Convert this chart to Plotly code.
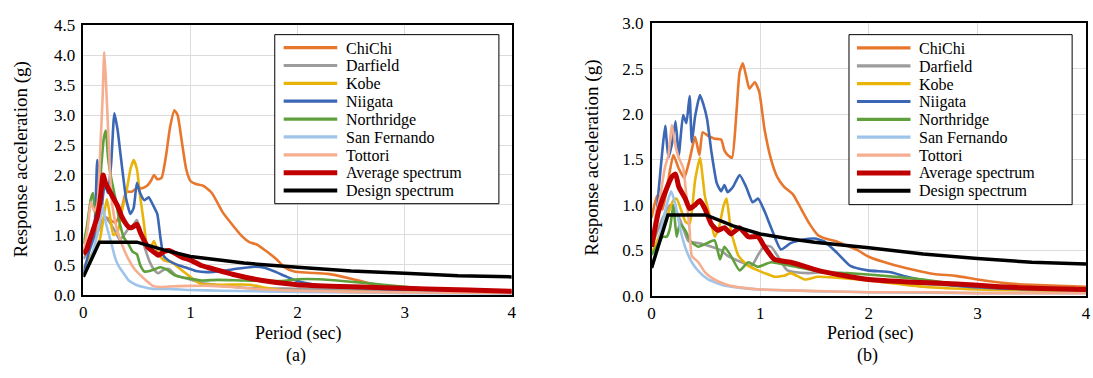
import plotly.graph_objects as go

W, H = 1093, 378
FONT = "Liberation Serif"

names = ["ChiChi", "Darfield", "Kobe", "Niigata", "Northridge", "San Fernando", "Tottori",
         "Average spectrum", "Design spectrum"]
colors = ["#E8772E", "#9C9C9C", "#E8B40A", "#3B67B5", "#5FA03C", "#9EC4EA", "#F5AE8F",
          "#C00000", "#000000"]

# ---------------- panel (a) ----------------
a_chichi_T = [0, 0.1, 0.2, 0.3, 0.36, 0.4, 0.45, 0.5, 0.55, 0.6, 0.63, 0.66, 0.69, 0.73, 0.77, 0.81, 0.85, 0.88, 0.92, 0.96, 1.0, 1.05, 1.12, 1.2, 1.3, 1.4, 1.48, 1.55, 1.62, 1.7, 1.8, 1.88, 1.97, 2.1, 2.28, 2.5, 2.7, 3.0, 3.5, 4.0]
a_chichi_v = [0.75, 1.0, 1.3, 1.2, 1.45, 1.72, 1.72, 1.78, 1.78, 1.83, 1.9, 2.0, 1.93, 1.95, 2.3, 2.8, 3.08, 3.0, 2.55, 2.1, 1.9, 1.85, 1.82, 1.7, 1.38, 1.15, 0.98, 0.88, 0.84, 0.74, 0.6, 0.46, 0.39, 0.37, 0.35, 0.27, 0.18, 0.1, 0.06, 0.05]

a_darfield_T = [0, 0.05, 0.1, 0.15, 0.2, 0.25, 0.3, 0.34, 0.38, 0.42, 0.46, 0.5, 0.54, 0.58, 0.62, 0.66, 0.7, 0.75, 0.8, 0.86, 0.95, 1.1, 1.3, 1.5, 2.0, 2.5, 3.0, 4.0]
a_darfield_v = [0.6, 0.75, 0.95, 1.1, 1.3, 1.2, 1.05, 0.92, 1.0, 1.1, 1.15, 1.25, 1.0, 0.75, 0.55, 0.42, 0.36, 0.42, 0.43, 0.33, 0.28, 0.2, 0.15, 0.12, 0.1, 0.08, 0.06, 0.04]

a_kobe_T = [0, 0.05, 0.1, 0.15, 0.19, 0.22, 0.25, 0.28, 0.32, 0.36, 0.4, 0.44, 0.47, 0.5, 0.53, 0.565, 0.6, 0.63, 0.66, 0.7, 0.75, 0.83, 0.94, 1.0, 1.1, 1.3, 1.55, 1.7, 1.85, 2.0, 2.5, 3.0, 4.0]
a_kobe_v = [0.45, 0.6, 0.75, 0.9, 1.3, 1.6, 1.3, 1.0, 1.05, 1.4, 1.7, 2.1, 2.25, 2.1, 1.65, 1.2, 0.78, 0.8, 0.9, 0.7, 0.58, 0.54, 0.38, 0.3, 0.18, 0.17, 0.17, 0.12, 0.08, 0.06, 0.05, 0.04, 0.03]

a_niigata_T = [0, 0.05, 0.1, 0.13, 0.16, 0.2, 0.23, 0.26, 0.29, 0.32, 0.35, 0.4, 0.44, 0.47, 0.5, 0.53, 0.57, 0.61, 0.65, 0.69, 0.72, 0.75, 0.8, 0.88, 0.95, 1.05, 1.15, 1.3, 1.45, 1.6, 1.7, 1.8, 1.9, 2.0, 2.2, 2.5, 2.8, 3.2, 3.6, 4.0]
a_niigata_v = [0.35, 0.7, 1.0, 2.25, 1.3, 1.85, 1.7, 2.2, 3.03, 2.75, 2.3, 1.6, 1.35, 1.45, 1.87, 1.7, 1.58, 1.63, 1.5, 1.35, 0.95, 0.65, 0.57, 0.5, 0.46, 0.4, 0.38, 0.4, 0.44, 0.47, 0.45, 0.38, 0.3, 0.23, 0.16, 0.12, 0.1, 0.07, 0.05, 0.04]

a_northridge_T = [0, 0.03, 0.07, 0.09, 0.11, 0.14, 0.17, 0.19, 0.21, 0.23, 0.26, 0.3, 0.34, 0.38, 0.42, 0.46, 0.5, 0.53, 0.57, 0.62, 0.67, 0.72, 0.78, 0.85, 0.93, 1.0, 1.1, 1.25, 1.5, 1.85, 2.0, 2.2, 2.5, 2.8, 3.1, 3.5, 4.0]
a_northridge_v = [0.85, 1.1, 1.6, 1.7, 1.35, 1.55, 2.2, 2.6, 2.74, 2.3, 1.95, 1.6, 1.2, 0.95, 0.85, 0.72, 0.68, 0.5, 0.39, 0.4, 0.43, 0.46, 0.42, 0.33, 0.29, 0.27, 0.24, 0.25, 0.24, 0.23, 0.26, 0.26, 0.22, 0.17, 0.12, 0.07, 0.04]

a_sanfernando_T = [0, 0.05, 0.1, 0.13, 0.16, 0.18, 0.21, 0.24, 0.27, 0.3, 0.33, 0.38, 0.43, 0.49, 0.56, 0.65, 0.8, 1.0, 1.3, 1.6, 2.0, 2.5, 3.0, 4.0]
a_sanfernando_v = [0.35, 0.5, 0.8, 1.0, 1.3, 1.48, 1.2, 1.0, 0.8, 0.6, 0.48, 0.35, 0.23, 0.17, 0.13, 0.1, 0.1, 0.08, 0.07, 0.06, 0.05, 0.04, 0.03, 0.02]

a_tottori_T = [0, 0.04, 0.07, 0.1, 0.13, 0.16, 0.18, 0.195, 0.21, 0.23, 0.25, 0.27, 0.3, 0.33, 0.37, 0.42, 0.47, 0.52, 0.58, 0.65, 0.72, 0.8, 1.0, 1.2, 1.4, 1.6, 1.8, 2.0, 2.5, 3.0, 4.0]
a_tottori_v = [0.7, 1.1, 1.55, 1.4, 1.5, 2.5, 3.3, 4.05, 3.6, 2.8, 2.0, 1.5, 1.2, 1.0, 0.8, 0.6, 0.45, 0.35, 0.25, 0.15, 0.13, 0.14, 0.15, 0.15, 0.13, 0.1, 0.08, 0.07, 0.05, 0.04, 0.03]

a_average_T = [0, 0.03, 0.06, 0.1, 0.13, 0.155, 0.185, 0.21, 0.24, 0.27, 0.3, 0.33, 0.36, 0.4, 0.43, 0.46, 0.5, 0.53, 0.57, 0.6, 0.63, 0.67, 0.7, 0.75, 0.8, 0.85, 0.93, 1.0, 1.1, 1.2, 1.4, 1.67, 2.0, 2.4, 2.8, 3.2, 3.6, 4.0]
a_average_v = [0.68, 0.75, 0.92, 1.13, 1.3, 1.55, 2.0, 1.85, 1.75, 1.65, 1.55, 1.44, 1.3, 1.18, 1.12, 1.13, 1.18, 1.05, 0.9, 0.8, 0.75, 0.7, 0.66, 0.72, 0.74, 0.7, 0.62, 0.58, 0.49, 0.44, 0.34, 0.24, 0.17, 0.14, 0.12, 0.1, 0.08, 0.06]

a_design_T = [0, 0.15, 0.5, 0.75, 1.0, 1.25, 1.5, 2.0, 2.5, 3.0, 3.5, 4.0]
a_design_v = [0.3, 0.88, 0.88, 0.75, 0.64, 0.58, 0.53, 0.46, 0.40, 0.36, 0.32, 0.30]

# ---------------- panel (b) ----------------
b_chichi_T = [0, 0.05, 0.1, 0.15, 0.2, 0.25, 0.3, 0.35, 0.4, 0.44, 0.47, 0.52, 0.58, 0.64, 0.67, 0.7, 0.74, 0.78, 0.81, 0.84, 0.87, 0.9, 0.95, 0.99, 1.04, 1.1, 1.16, 1.22, 1.3, 1.38, 1.45, 1.53, 1.6, 1.7, 1.8, 1.9, 2.0, 2.2, 2.4, 2.6, 2.8, 3.0, 3.25, 3.5, 3.75, 4.0]
b_chichi_v = [0.86, 1.1, 0.95, 1.25, 1.55, 1.4, 1.3, 1.5, 1.75, 1.55, 1.8, 1.76, 1.73, 1.72, 1.6, 1.55, 1.52, 2.0, 2.46, 2.56, 2.42, 2.28, 2.35, 2.25, 1.83, 1.5, 1.3, 1.2, 1.12, 0.95, 0.8, 0.67, 0.63, 0.6, 0.55, 0.5, 0.43, 0.35, 0.29, 0.24, 0.22, 0.18, 0.14, 0.12, 0.11, 0.1]

b_darfield_T = [0, 0.05, 0.1, 0.17, 0.22, 0.28, 0.34, 0.43, 0.5, 0.58, 0.64, 0.7, 0.77, 0.83, 0.92, 0.98, 1.04, 1.1, 1.16, 1.25, 1.44, 1.59, 1.8, 2.0, 2.5, 3.0, 3.5, 4.0]
b_darfield_v = [0.55, 0.7, 0.85, 1.0, 0.95, 0.78, 0.6, 0.58, 0.56, 0.53, 0.5, 0.44, 0.4, 0.37, 0.33, 0.45, 0.55, 0.54, 0.44, 0.28, 0.25, 0.26, 0.22, 0.19, 0.13, 0.1, 0.09, 0.08]

b_kobe_T = [0, 0.05, 0.1, 0.15, 0.2, 0.23, 0.27, 0.31, 0.35, 0.4, 0.445, 0.49, 0.54, 0.58, 0.62, 0.66, 0.69, 0.73, 0.8, 0.89, 0.98, 1.04, 1.13, 1.22, 1.28, 1.41, 1.53, 1.7, 2.0, 2.5, 3.0, 4.0]
b_kobe_v = [0.47, 0.6, 0.75, 0.9, 1.05, 1.07, 0.95, 0.82, 0.79, 1.27, 1.52, 1.1, 0.86, 0.65, 0.75, 0.98, 1.07, 0.72, 0.44, 0.33, 0.28, 0.25, 0.21, 0.22, 0.25, 0.18, 0.21, 0.2, 0.17, 0.1, 0.07, 0.05]

b_niigata_T = [0, 0.03, 0.06, 0.095, 0.125, 0.155, 0.19, 0.22, 0.25, 0.29, 0.32, 0.35, 0.37, 0.4, 0.445, 0.476, 0.51, 0.55, 0.6, 0.64, 0.67, 0.7, 0.75, 0.81, 0.87, 0.93, 0.98, 1.04, 1.1, 1.19, 1.28, 1.4, 1.5, 1.59, 1.71, 1.83, 1.99, 2.2, 2.35, 2.6, 2.81, 3.2, 3.6, 4.0]
b_niigata_v = [0.65, 0.72, 1.1, 1.55, 1.87, 1.52, 1.69, 1.92, 1.55, 1.99, 1.9, 2.2, 1.69, 1.97, 2.21, 2.11, 1.95, 1.59, 1.24, 1.15, 1.22, 1.14, 1.2, 1.33, 1.2, 1.03, 1.07, 0.93, 0.75, 0.51, 0.58, 0.62, 0.63, 0.6, 0.47, 0.33, 0.28, 0.26, 0.21, 0.15, 0.11, 0.08, 0.07, 0.06]

b_northridge_T = [0, 0.05, 0.1, 0.14, 0.17, 0.2, 0.23, 0.26, 0.31, 0.36, 0.43, 0.51, 0.58, 0.63, 0.67, 0.73, 0.81, 0.89, 0.98, 1.1, 1.28, 1.59, 1.8, 2.05, 2.5, 2.81, 3.2, 3.6, 4.0]
b_northridge_v = [0.45, 0.55, 0.65, 0.65, 0.75, 1.0, 0.65, 0.79, 0.72, 0.6, 0.54, 0.58, 0.61, 0.4, 0.54, 0.44, 0.28, 0.37, 0.32, 0.37, 0.33, 0.26, 0.25, 0.23, 0.18, 0.13, 0.1, 0.08, 0.06]

b_sanfernando_T = [0, 0.05, 0.1, 0.15, 0.18, 0.22, 0.27, 0.32, 0.37, 0.44, 0.52, 0.65, 0.8, 1.0, 1.5, 2.0, 3.0, 4.0]
b_sanfernando_v = [0.3, 0.5, 0.8, 1.05, 1.15, 1.0, 0.7, 0.5, 0.37, 0.26, 0.18, 0.12, 0.09, 0.07, 0.05, 0.04, 0.03, 0.03]

b_tottori_T = [0, 0.04, 0.08, 0.12, 0.155, 0.186, 0.22, 0.25, 0.29, 0.32, 0.35, 0.37, 0.43, 0.49, 0.55, 0.61, 0.7, 0.83, 1.0, 1.3, 1.6, 2.0, 2.5, 3.0, 4.0]
b_tottori_v = [0.6, 0.9, 1.1, 1.4, 1.55, 1.88, 1.65, 1.52, 1.41, 1.1, 0.72, 0.44, 0.37, 0.26, 0.2, 0.16, 0.12, 0.09, 0.07, 0.06, 0.05, 0.04, 0.04, 0.03, 0.03]

b_average_T = [0, 0.064, 0.125, 0.186, 0.22, 0.25, 0.31, 0.35, 0.4, 0.445, 0.49, 0.55, 0.61, 0.67, 0.73, 0.81, 0.89, 0.98, 1.04, 1.13, 1.28, 1.53, 1.74, 2.0, 2.4, 2.81, 3.2, 3.6, 4.0]
b_average_v = [0.54, 0.93, 1.14, 1.31, 1.34, 1.2, 1.07, 0.96, 1.0, 1.05, 0.96, 0.79, 0.72, 0.75, 0.68, 0.75, 0.65, 0.65, 0.54, 0.40, 0.37, 0.28, 0.23, 0.18, 0.15, 0.13, 0.1, 0.08, 0.07]

b_design_T = [0, 0.15, 0.5, 0.75, 1.0, 1.25, 1.5, 2.0, 2.5, 3.0, 3.5, 4.0]
b_design_v = [0.31, 0.89, 0.89, 0.77, 0.68, 0.63, 0.59, 0.53, 0.46, 0.41, 0.37, 0.35]

panel_a = [(a_chichi_T, a_chichi_v), (a_darfield_T, a_darfield_v), (a_kobe_T, a_kobe_v),
           (a_niigata_T, a_niigata_v), (a_northridge_T, a_northridge_v),
           (a_sanfernando_T, a_sanfernando_v), (a_tottori_T, a_tottori_v),
           (a_average_T, a_average_v), (a_design_T, a_design_v)]
panel_b = [(b_chichi_T, b_chichi_v), (b_darfield_T, b_darfield_v), (b_kobe_T, b_kobe_v),
           (b_niigata_T, b_niigata_v), (b_northridge_T, b_northridge_v),
           (b_sanfernando_T, b_sanfernando_v), (b_tottori_T, b_tottori_v),
           (b_average_T, b_average_v), (b_design_T, b_design_v)]

widths = [2.6] * 7 + [5, 3.5]


def px_x(p):
    return p / W


def px_y(p):
    return 1 - p / H


fig = go.Figure()
for k, (panel, xa, ya) in enumerate([(panel_a, "x", "y"), (panel_b, "x2", "y2")]):
    for i, (T, v) in enumerate(panel):
        shape = "linear" if i == 8 else "spline"
        fig.add_trace(go.Scatter(
            x=T, y=v, mode="lines", name=names[i], xaxis=xa, yaxis=ya,
            showlegend=False, legendgroup=names[i],
            line=dict(color=colors[i], width=widths[i], shape=shape,
                      smoothing=0.5 if shape == "spline" else None),
        ))

tickfont = dict(family=FONT, size=17, color="#000")
axis_common = dict(showline=True, linecolor="#000", linewidth=1.5, mirror=True,
                   showgrid=True, gridcolor="#DCDCDC", gridwidth=1, zeroline=False,
                   ticks="", tickfont=tickfont)

fig.update_layout(
    width=W, height=H, margin=dict(l=0, r=0, t=0, b=0),
    paper_bgcolor="white", plot_bgcolor="white",
    font=dict(family=FONT, size=17, color="#000"),
    showlegend=False,
    xaxis=dict(domain=[px_x(80), px_x(512)], range=[0, 4], dtick=1, anchor="y",
               ticklabelstandoff=1, **axis_common),
    yaxis=dict(domain=[px_y(301), px_y(17)], range=[0, 4.5], dtick=0.5, tickformat=".1f",
               anchor="x", ticklabelstandoff=3, **axis_common),
    xaxis2=dict(domain=[px_x(653), px_x(1091)], range=[0, 4], dtick=1, anchor="y2",
                ticklabelstandoff=1, **axis_common),
    yaxis2=dict(domain=[px_y(302), px_y(15)], range=[0, 3.0], dtick=0.5, tickformat=".1f",
                anchor="x2", ticklabelstandoff=3, **axis_common),
)

# legends (box, line samples, labels) placed like the reference
legend_boxes = [
    dict(x0=273, x1=499, y0=27, y1=205, lx0=282, lx1=336, tx=342.5, ty0=40.7),
    dict(x0=852, x1=1077, y0=27, y1=206, lx0=860, lx1=914, tx=921, ty0=41.0),
]
row_step = 18.8
legend_widths = [3.2] * 7 + [5, 4]
shapes = []
annotations = []
for lb in legend_boxes:
    shapes.append(dict(type="rect", xref="paper", yref="paper",
                       x0=px_x(lb["x0"]), x1=px_x(lb["x1"]),
                       y0=px_y(lb["y1"]), y1=px_y(lb["y0"]),
                       line=dict(color="#000", width=1), fillcolor="white", layer="above"))
    for i in range(9):
        yy = lb["ty0"] + i * row_step
        shapes.append(dict(type="line", xref="paper", yref="paper",
                           x0=px_x(lb["lx0"]), x1=px_x(lb["lx1"]),
                           y0=px_y(yy), y1=px_y(yy),
                           line=dict(color=colors[i], width=legend_widths[i]), layer="above"))
        annotations.append(dict(text=names[i], x=px_x(lb["tx"]), y=px_y(yy + 0.5),
                                xanchor="left", yanchor="middle",
                                font=dict(family=FONT, size=16, color="#000")))

title_font = dict(family=FONT, size=18, color="#000")
annotations += [
    dict(text="Response acceleration (g)", x=px_x(17.5), y=px_y(158), textangle=-90,
         xanchor="center", yanchor="middle", font=dict(family=FONT, size=19, color="#000")),
    dict(text="Response acceleration (g)", x=px_x(592.5), y=px_y(157), textangle=-90,
         xanchor="center", yanchor="middle", font=dict(family=FONT, size=19, color="#000")),
    dict(text="Period (sec)", x=px_x(296), y=px_y(342), xanchor="center", yanchor="middle",
         font=title_font),
    dict(text="Period (sec)", x=px_x(873), y=px_y(342), xanchor="center", yanchor="middle",
         font=title_font),
    dict(text="(a)", x=px_x(294), y=px_y(365), xanchor="center", yanchor="middle",
         font=title_font),
    dict(text="(b)", x=px_x(871), y=px_y(365), xanchor="center", yanchor="middle",
         font=title_font),
]
for a in annotations:
    fig.add_annotation(xref="paper", yref="paper", showarrow=False, **a)
fig.update_layout(shapes=shapes)

fig.write_html("out.html")
